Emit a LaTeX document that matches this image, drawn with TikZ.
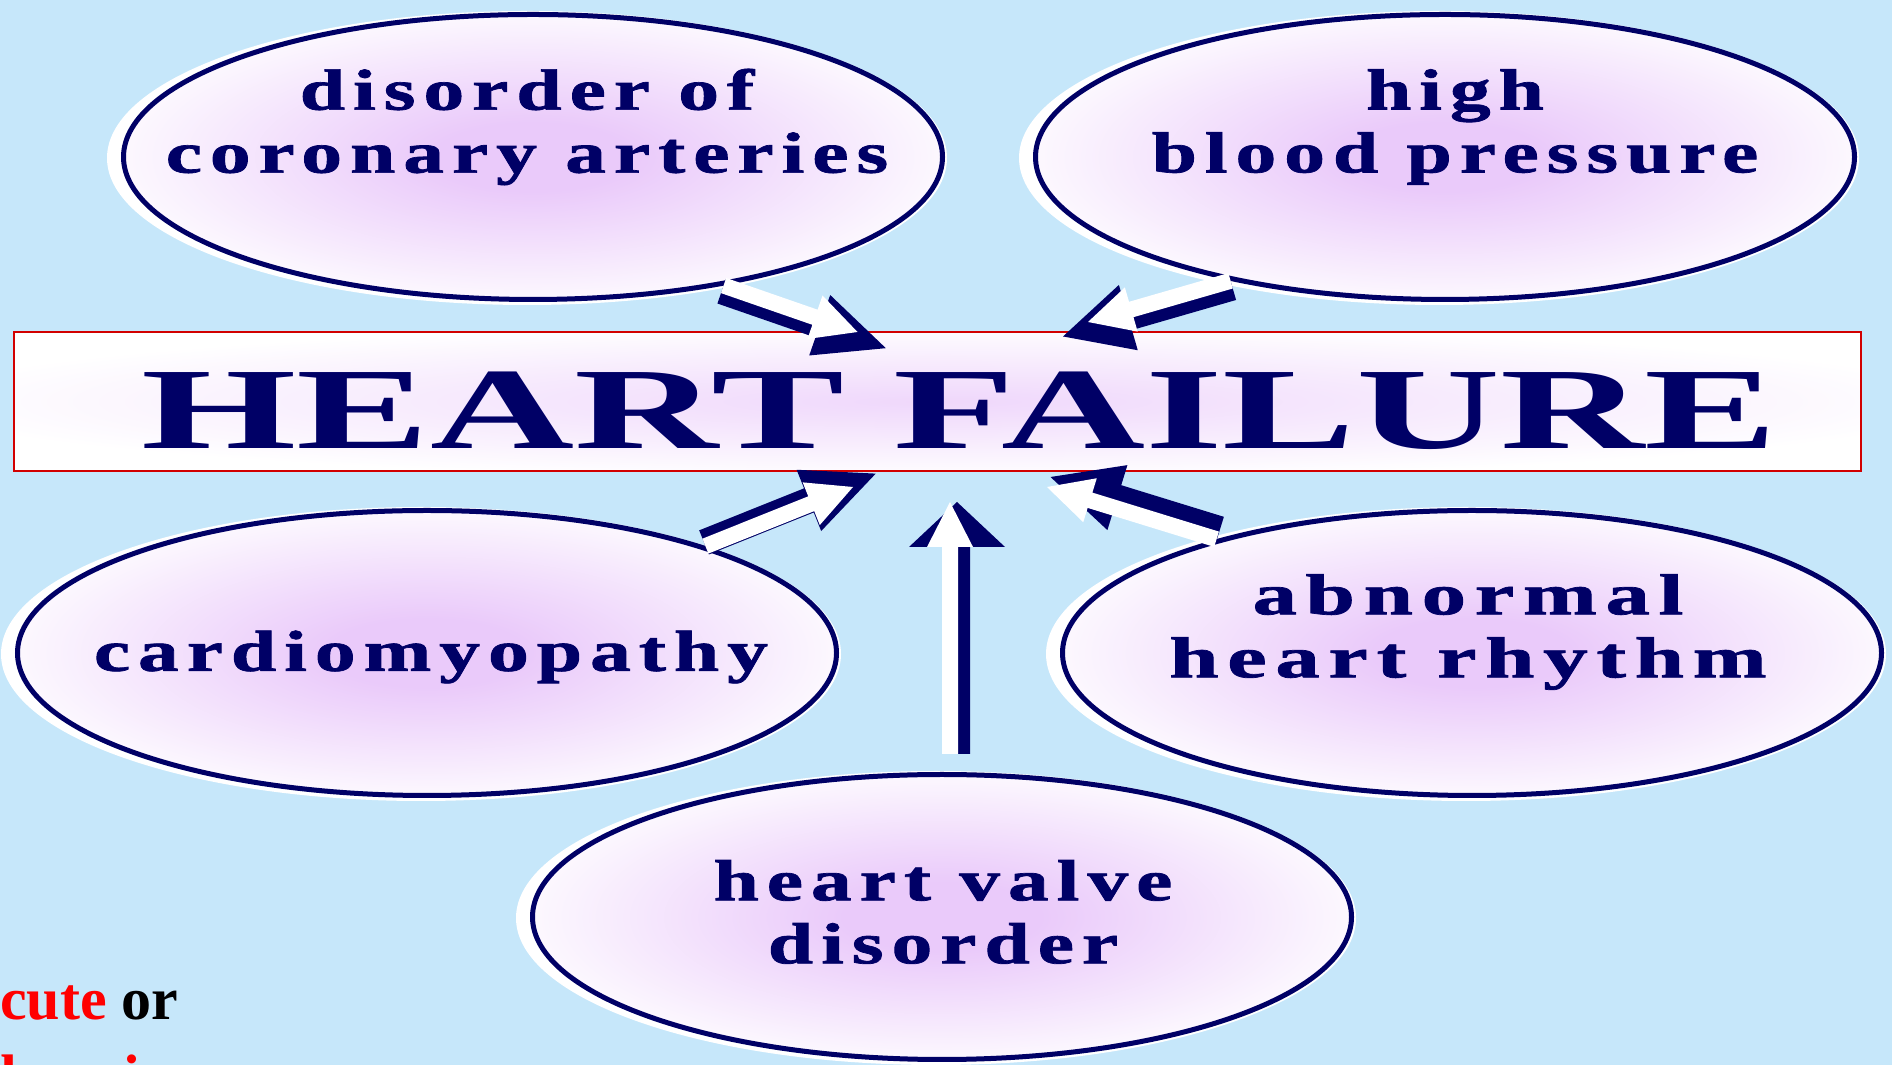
\documentclass[tikz,border=0pt]{standalone}
\usepackage{fontspec}
\usepackage{xcolor}
\usepackage{tikz}
\usetikzlibrary{shapes.geometric, positioning, calc}
\setmainfont{Liberation Serif}
\newfontfamily\causefont{Liberation Serif}[LetterSpace=10, BoldFeatures={FakeBold=1.2}]
\definecolor{heartnavy}{RGB}{0, 0, 102}
\definecolor{slideblue}{RGB}{198, 231, 250}
\definecolor{heartlilac}{RGB}{234, 202, 250}
\definecolor{boxred}{RGB}{210, 0, 0}

\pgfdeclareradialshading{lilacglow}{\pgfpoint{0bp}{0bp}}{color(0bp)=(heartlilac); color(6bp)=(heartlilac); color(28bp)=(white); color(50bp)=(white)}
\pgfdeclareradialshading{paleglow}{\pgfpoint{0bp}{0bp}}{color(0bp)=(heartlilac!75!white); color(28bp)=(white); color(50bp)=(white)}

% white block arrow laid over a bigger dark copy
% #1 tail, #2 tip, #3 shift of the dark copy, #4 extra length, #5 head length, #6 head half width
\newcommand{\causearrow}[6]{%
    \coordinate (dt) at ($(#1)+(#3)$);
    \coordinate (dq) at ($(#2)+(#3)$);
    \coordinate (dp) at ($(dq)!-#4!(dt)$);
    \coordinate (dh) at ($(dp)!#5!(dt)$);
    \fill[heartnavy] ($(dt)!13pt!90:(dp)$) -- ($(dh)!13pt!-90:(dt)$) -- ($(dh)!#6!-90:(dt)$) -- (dp)
        -- ($(dh)!#6!90:(dt)$) -- ($(dh)!13pt!90:(dt)$) -- ($(dt)!13pt!-90:(dp)$) -- cycle;
    \coordinate (wh) at ($(#2)!45pt!(#1)$);
    \fill[white] ($(#1)!8pt!90:(#2)$) -- ($(wh)!8pt!-90:(#1)$) -- ($(wh)!23pt!-90:(#1)$) -- (#2)
        -- ($(wh)!23pt!90:(#1)$) -- ($(wh)!8pt!90:(#1)$) -- ($(#1)!8pt!-90:(#2)$) -- cycle;
}

\begin{document}
\begin{tikzpicture}[x=1pt, y=1pt,
    causebubble/.style={ellipse, minimum width=819pt, minimum height=285pt, inner sep=0pt,
        draw=heartnavy, line width=5pt, shade, shading=lilacglow},
    bubblehalo/.style={ellipse, minimum width=840pt, minimum height=294pt, inner sep=0pt, fill=white},
    causetext/.style={text=heartnavy, align=center, inner sep=0pt, xscale=1.4,
        font=\causefont\bfseries\fontsize{58}{63}\selectfont}]

    % 1. BACKGROUND
    \fill[slideblue] (0,0) rectangle (1892,1065);
    \useasboundingbox (0,0) rectangle (1892,1065);

    % 2. WHITE HALOS (behind the bubbles)
    \foreach \cx/\cy in {533/908, 1445/908, 427/412, 1472/412, 942/148}
        \node[bubblehalo] at (\cx-6, \cy-1) {};

    % 3. CAUSE BUBBLES
    \node[causebubble] (coronary) at (533,908) {};
    \node[causebubble] (pressure) at (1445,908) {};
    \node[causebubble] (cardio) at (427,412) {};
    \node[causebubble] (rhythm) at (1472,412) {};
    \node[causebubble] (valve) at (942,148) {};

    \node[causetext] (coronary-t) at (527,938) {disorder of\\coronary arteries};
    \node[causetext] (pressure-t) at (1455,938) {high\\blood pressure};
    \node[causetext] (cardio-t) at (431,408) {cardiomyopathy};
    \node[causetext, xscale=1.09] (rhythm-t) at (1468,433) {abnormal\\heart rhythm};
    \node[causetext] (valve-t) at (943,153) {heart valve\\disorder};

    % 4. MAIN BOX
    \node[draw=boxred, line width=2pt, minimum width=1847pt, minimum height=139pt, inner sep=0pt,
        shade, shading=paleglow] (failure) at (937.5,663.5) {};
    \node[text=heartnavy, font=\bfseries\fontsize{116}{120}\selectfont, anchor=base, inner sep=0pt]
        (failure-t) at (959.5,616) {\scalebox{1.72}[1]{HEART FAILURE}};

    % 5. ARROWS (bubble -> box)
    \coordinate (tip1) at ($(failure.north)+(-80,-1)$);
    \coordinate (tip2) at ($(failure.north)+(150.5,9)$);
    \coordinate (tip3) at ($(failure.south)+(-84.5,-15)$);
    \coordinate (tip4) at ($(failure.south)+(109.5,-15)$);
    \coordinate (tip5) at ($(failure.south)+(12.5,-30)$);
    \coordinate (valve-top) at ($(valve.north)+(8,18)$);

    \causearrow{coronary.-34.5}{tip1}{-1.9,-5.7}{32pt}{70pt}{32pt}
    \causearrow{pressure.210.3}{tip2}{1.9,-6.7}{28pt}{68pt}{34pt}
    \causearrow{cardio.21.6}{tip3}{-1.4,3.7}{26pt}{72pt}{33pt}
    \causearrow{rhythm.156.4}{tip4}{3.5,10}{0pt}{70pt}{34pt}
    \causearrow{valve-top}{tip5}{7,0}{0pt}{45pt}{48pt}

    % 6. SLIDE TEXT (cut by the frame)
    \begin{scope}
        \clip (0,0) rectangle (1892,1065);
        \node[anchor=base west, inner sep=0pt, font=\bfseries\fontsize{60}{76}\selectfont]
            (acute) at (0,45) {\textcolor{red}{cute} or};
        \node[anchor=base west, inner sep=0pt, font=\bfseries\fontsize{60}{76}\selectfont, text=red]
            (chronic) at (-26,-31) {chronic};
    \end{scope}

\end{tikzpicture}
\end{document}
